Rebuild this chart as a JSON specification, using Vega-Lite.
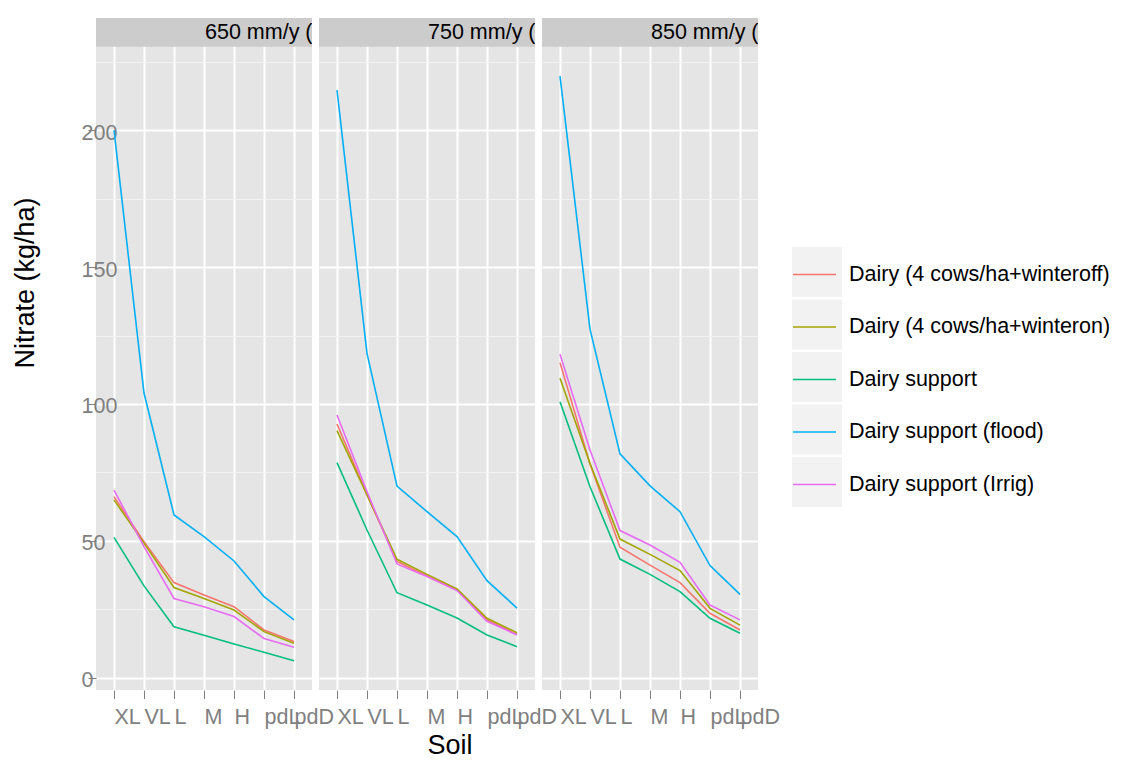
{
  "$schema": "https://vega.github.io/schema/vega-lite/v6.json",
  "background": "white",
  "padding": {"left": 11, "top": 18, "right": 5, "bottom": 5},
  "data": {"values": [
    {"rain": "650 mm/y (", "series": "Dairy (4 cows/ha+winteroff)", "soil": "XL", "nitrate": 66.2},
    {"rain": "650 mm/y (", "series": "Dairy (4 cows/ha+winteroff)", "soil": "VL", "nitrate": 49.7},
    {"rain": "650 mm/y (", "series": "Dairy (4 cows/ha+winteroff)", "soil": "L", "nitrate": 34.8},
    {"rain": "650 mm/y (", "series": "Dairy (4 cows/ha+winteroff)", "soil": "M", "nitrate": 30.3},
    {"rain": "650 mm/y (", "series": "Dairy (4 cows/ha+winteroff)", "soil": "H", "nitrate": 26.0},
    {"rain": "650 mm/y (", "series": "Dairy (4 cows/ha+winteroff)", "soil": "pdL", "nitrate": 17.5},
    {"rain": "650 mm/y (", "series": "Dairy (4 cows/ha+winteroff)", "soil": "pdD", "nitrate": 13.3},
    {"rain": "650 mm/y (", "series": "Dairy (4 cows/ha+winteron)", "soil": "XL", "nitrate": 65.0},
    {"rain": "650 mm/y (", "series": "Dairy (4 cows/ha+winteron)", "soil": "VL", "nitrate": 49.2},
    {"rain": "650 mm/y (", "series": "Dairy (4 cows/ha+winteron)", "soil": "L", "nitrate": 33.0},
    {"rain": "650 mm/y (", "series": "Dairy (4 cows/ha+winteron)", "soil": "M", "nitrate": 29.0},
    {"rain": "650 mm/y (", "series": "Dairy (4 cows/ha+winteron)", "soil": "H", "nitrate": 24.8},
    {"rain": "650 mm/y (", "series": "Dairy (4 cows/ha+winteron)", "soil": "pdL", "nitrate": 16.9},
    {"rain": "650 mm/y (", "series": "Dairy (4 cows/ha+winteron)", "soil": "pdD", "nitrate": 12.7},
    {"rain": "650 mm/y (", "series": "Dairy support", "soil": "XL", "nitrate": 51.3},
    {"rain": "650 mm/y (", "series": "Dairy support", "soil": "VL", "nitrate": 33.6},
    {"rain": "650 mm/y (", "series": "Dairy support", "soil": "L", "nitrate": 18.7},
    {"rain": "650 mm/y (", "series": "Dairy support", "soil": "M", "nitrate": 15.6},
    {"rain": "650 mm/y (", "series": "Dairy support", "soil": "H", "nitrate": 12.4},
    {"rain": "650 mm/y (", "series": "Dairy support", "soil": "pdL", "nitrate": 9.4},
    {"rain": "650 mm/y (", "series": "Dairy support", "soil": "pdD", "nitrate": 6.3},
    {"rain": "650 mm/y (", "series": "Dairy support (flood)", "soil": "XL", "nitrate": 200.0},
    {"rain": "650 mm/y (", "series": "Dairy support (flood)", "soil": "VL", "nitrate": 104.0},
    {"rain": "650 mm/y (", "series": "Dairy support (flood)", "soil": "L", "nitrate": 59.5},
    {"rain": "650 mm/y (", "series": "Dairy support (flood)", "soil": "M", "nitrate": 51.6},
    {"rain": "650 mm/y (", "series": "Dairy support (flood)", "soil": "H", "nitrate": 42.7},
    {"rain": "650 mm/y (", "series": "Dairy support (flood)", "soil": "pdL", "nitrate": 29.7},
    {"rain": "650 mm/y (", "series": "Dairy support (flood)", "soil": "pdD", "nitrate": 21.2},
    {"rain": "650 mm/y (", "series": "Dairy support (Irrig)", "soil": "XL", "nitrate": 68.6},
    {"rain": "650 mm/y (", "series": "Dairy support (Irrig)", "soil": "VL", "nitrate": 47.9},
    {"rain": "650 mm/y (", "series": "Dairy support (Irrig)", "soil": "L", "nitrate": 29.0},
    {"rain": "650 mm/y (", "series": "Dairy support (Irrig)", "soil": "M", "nitrate": 26.0},
    {"rain": "650 mm/y (", "series": "Dairy support (Irrig)", "soil": "H", "nitrate": 22.4},
    {"rain": "650 mm/y (", "series": "Dairy support (Irrig)", "soil": "pdL", "nitrate": 14.4},
    {"rain": "650 mm/y (", "series": "Dairy support (Irrig)", "soil": "pdD", "nitrate": 11.2},
    {"rain": "750 mm/y (", "series": "Dairy (4 cows/ha+winteroff)", "soil": "XL", "nitrate": 92.7},
    {"rain": "750 mm/y (", "series": "Dairy (4 cows/ha+winteroff)", "soil": "VL", "nitrate": 66.9},
    {"rain": "750 mm/y (", "series": "Dairy (4 cows/ha+winteroff)", "soil": "L", "nitrate": 42.5},
    {"rain": "750 mm/y (", "series": "Dairy (4 cows/ha+winteroff)", "soil": "M", "nitrate": 37.2},
    {"rain": "750 mm/y (", "series": "Dairy (4 cows/ha+winteroff)", "soil": "H", "nitrate": 32.1},
    {"rain": "750 mm/y (", "series": "Dairy (4 cows/ha+winteroff)", "soil": "pdL", "nitrate": 21.2},
    {"rain": "750 mm/y (", "series": "Dairy (4 cows/ha+winteroff)", "soil": "pdD", "nitrate": 15.9},
    {"rain": "750 mm/y (", "series": "Dairy (4 cows/ha+winteron)", "soil": "XL", "nitrate": 90.3},
    {"rain": "750 mm/y (", "series": "Dairy (4 cows/ha+winteron)", "soil": "VL", "nitrate": 66.8},
    {"rain": "750 mm/y (", "series": "Dairy (4 cows/ha+winteron)", "soil": "L", "nitrate": 43.3},
    {"rain": "750 mm/y (", "series": "Dairy (4 cows/ha+winteron)", "soil": "M", "nitrate": 37.8},
    {"rain": "750 mm/y (", "series": "Dairy (4 cows/ha+winteron)", "soil": "H", "nitrate": 32.5},
    {"rain": "750 mm/y (", "series": "Dairy (4 cows/ha+winteron)", "soil": "pdL", "nitrate": 21.8},
    {"rain": "750 mm/y (", "series": "Dairy (4 cows/ha+winteron)", "soil": "pdD", "nitrate": 16.5},
    {"rain": "750 mm/y (", "series": "Dairy support", "soil": "XL", "nitrate": 78.6},
    {"rain": "750 mm/y (", "series": "Dairy support", "soil": "VL", "nitrate": 54.0},
    {"rain": "750 mm/y (", "series": "Dairy support", "soil": "L", "nitrate": 31.1},
    {"rain": "750 mm/y (", "series": "Dairy support", "soil": "M", "nitrate": 26.6},
    {"rain": "750 mm/y (", "series": "Dairy support", "soil": "H", "nitrate": 21.9},
    {"rain": "750 mm/y (", "series": "Dairy support", "soil": "pdL", "nitrate": 15.7},
    {"rain": "750 mm/y (", "series": "Dairy support", "soil": "pdD", "nitrate": 11.4},
    {"rain": "750 mm/y (", "series": "Dairy support (flood)", "soil": "XL", "nitrate": 214.6},
    {"rain": "750 mm/y (", "series": "Dairy support (flood)", "soil": "VL", "nitrate": 118.5},
    {"rain": "750 mm/y (", "series": "Dairy support (flood)", "soil": "L", "nitrate": 70.0},
    {"rain": "750 mm/y (", "series": "Dairy support (flood)", "soil": "M", "nitrate": 60.7},
    {"rain": "750 mm/y (", "series": "Dairy support (flood)", "soil": "H", "nitrate": 51.6},
    {"rain": "750 mm/y (", "series": "Dairy support (flood)", "soil": "pdL", "nitrate": 35.5},
    {"rain": "750 mm/y (", "series": "Dairy support (flood)", "soil": "pdD", "nitrate": 25.5},
    {"rain": "750 mm/y (", "series": "Dairy support (Irrig)", "soil": "XL", "nitrate": 96.0},
    {"rain": "750 mm/y (", "series": "Dairy support (Irrig)", "soil": "VL", "nitrate": 68.0},
    {"rain": "750 mm/y (", "series": "Dairy support (Irrig)", "soil": "L", "nitrate": 41.6},
    {"rain": "750 mm/y (", "series": "Dairy support (Irrig)", "soil": "M", "nitrate": 37.0},
    {"rain": "750 mm/y (", "series": "Dairy support (Irrig)", "soil": "H", "nitrate": 31.9},
    {"rain": "750 mm/y (", "series": "Dairy support (Irrig)", "soil": "pdL", "nitrate": 20.7},
    {"rain": "750 mm/y (", "series": "Dairy support (Irrig)", "soil": "pdD", "nitrate": 15.7},
    {"rain": "850 mm/y (", "series": "Dairy (4 cows/ha+winteroff)", "soil": "XL", "nitrate": 115.1},
    {"rain": "850 mm/y (", "series": "Dairy (4 cows/ha+winteroff)", "soil": "VL", "nitrate": 78.1},
    {"rain": "850 mm/y (", "series": "Dairy (4 cows/ha+winteroff)", "soil": "L", "nitrate": 47.7},
    {"rain": "850 mm/y (", "series": "Dairy (4 cows/ha+winteroff)", "soil": "M", "nitrate": 41.2},
    {"rain": "850 mm/y (", "series": "Dairy (4 cows/ha+winteroff)", "soil": "H", "nitrate": 34.8},
    {"rain": "850 mm/y (", "series": "Dairy (4 cows/ha+winteroff)", "soil": "pdL", "nitrate": 23.6},
    {"rain": "850 mm/y (", "series": "Dairy (4 cows/ha+winteroff)", "soil": "pdD", "nitrate": 17.5},
    {"rain": "850 mm/y (", "series": "Dairy (4 cows/ha+winteron)", "soil": "XL", "nitrate": 109.4},
    {"rain": "850 mm/y (", "series": "Dairy (4 cows/ha+winteron)", "soil": "VL", "nitrate": 78.3},
    {"rain": "850 mm/y (", "series": "Dairy (4 cows/ha+winteron)", "soil": "L", "nitrate": 50.7},
    {"rain": "850 mm/y (", "series": "Dairy (4 cows/ha+winteron)", "soil": "M", "nitrate": 45.1},
    {"rain": "850 mm/y (", "series": "Dairy (4 cows/ha+winteron)", "soil": "H", "nitrate": 39.2},
    {"rain": "850 mm/y (", "series": "Dairy (4 cows/ha+winteron)", "soil": "pdL", "nitrate": 25.4},
    {"rain": "850 mm/y (", "series": "Dairy (4 cows/ha+winteron)", "soil": "pdD", "nitrate": 19.3},
    {"rain": "850 mm/y (", "series": "Dairy support", "soil": "XL", "nitrate": 100.8},
    {"rain": "850 mm/y (", "series": "Dairy support", "soil": "VL", "nitrate": 69.8},
    {"rain": "850 mm/y (", "series": "Dairy support", "soil": "L", "nitrate": 43.4},
    {"rain": "850 mm/y (", "series": "Dairy support", "soil": "M", "nitrate": 37.8},
    {"rain": "850 mm/y (", "series": "Dairy support", "soil": "H", "nitrate": 31.5},
    {"rain": "850 mm/y (", "series": "Dairy support", "soil": "pdL", "nitrate": 21.8},
    {"rain": "850 mm/y (", "series": "Dairy support", "soil": "pdD", "nitrate": 16.3},
    {"rain": "850 mm/y (", "series": "Dairy support (flood)", "soil": "XL", "nitrate": 219.7},
    {"rain": "850 mm/y (", "series": "Dairy support (flood)", "soil": "VL", "nitrate": 127.3},
    {"rain": "850 mm/y (", "series": "Dairy support (flood)", "soil": "L", "nitrate": 81.8},
    {"rain": "850 mm/y (", "series": "Dairy support (flood)", "soil": "M", "nitrate": 70.1},
    {"rain": "850 mm/y (", "series": "Dairy support (flood)", "soil": "H", "nitrate": 60.7},
    {"rain": "850 mm/y (", "series": "Dairy support (flood)", "soil": "pdL", "nitrate": 41.0},
    {"rain": "850 mm/y (", "series": "Dairy support (flood)", "soil": "pdD", "nitrate": 30.5},
    {"rain": "850 mm/y (", "series": "Dairy support (Irrig)", "soil": "XL", "nitrate": 118.2},
    {"rain": "850 mm/y (", "series": "Dairy support (Irrig)", "soil": "VL", "nitrate": 83.2},
    {"rain": "850 mm/y (", "series": "Dairy support (Irrig)", "soil": "L", "nitrate": 53.8},
    {"rain": "850 mm/y (", "series": "Dairy support (Irrig)", "soil": "M", "nitrate": 48.5},
    {"rain": "850 mm/y (", "series": "Dairy support (Irrig)", "soil": "H", "nitrate": 42.2},
    {"rain": "850 mm/y (", "series": "Dairy support (Irrig)", "soil": "pdL", "nitrate": 26.6},
    {"rain": "850 mm/y (", "series": "Dairy support (Irrig)", "soil": "pdD", "nitrate": 21.2}
  ]},
  "spacing": 7,
  "bounds": "flush",
  "resolve": {"scale": {"color": "independent", "stroke": "independent", "x": "independent", "y": "independent"}, "legend": {"color": "independent", "stroke": "independent"}},
  "hconcat": [
    {
      "width": 216, "height": 672,
      "transform": [{"filter": "datum.rain === '650 mm/y ('"}],
      "layer": [
        {
          "mark": {"type": "line", "strokeWidth": 1.6},
          "encoding": {
            "x": {
              "field": "soil", "type": "nominal",
              "scale": {"type": "point", "padding": 0.6, "domain": ["XL", "VL", "L", "M", "H", "pdL", "pdD"]},
              "axis": {"title": null, "grid": true, "gridColor": "#FFFFFF", "gridWidth": 2, "domain": false, "tickSize": 8.5, "tickColor": "#7F7F7F", "tickWidth": 1, "labelAlign": "left", "labelAngle": 0, "labelPadding": 8, "labelOverlap": false, "labelBound": false, "labelColor": "#7F7F7F", "labelFontSize": 21.5, "labelFont": "Liberation Sans"}
            },
            "y": {
              "field": "nitrate", "type": "quantitative",
              "scale": {"domain": [-4.4, 240.9], "nice": false, "zero": false},
              "axis": {
                "title": "Nitrate (kg/ha)",
                "values": [0, 25, 50, 75, 100, 125, 150, 175, 200, 225],
                "labelExpr": "datum.value % 50 === 0 ? datum.label : ''",
                "grid": true,
                "gridColor": {"condition": {"test": "datum.value % 50 === 0", "value": "#FFFFFF"}, "value": "#F2F2F2"},
                "gridWidth": {"condition": {"test": "datum.value % 50 === 0", "value": 2}, "value": 1},
                "tickOpacity": {"condition": {"test": "datum.value % 50 === 0", "value": 1}, "value": 0},
                "domain": false, "tickSize": 8, "tickColor": "#7F7F7F", "tickWidth": 1,
                "labelAlign": "left", "labelPadding": 7, "labelBaseline": "middle", "labelOffset": 3,
                "labelColor": "#7F7F7F", "labelFontSize": 21.5, "labelFont": "Liberation Sans",
                "titleFont": "Liberation Sans", "titleFontSize": 27, "titleFontWeight": "normal", "titleColor": "#000000",
                "titleAnchor": "middle", "titleAlign": "left", "titleY": 350, "titlePadding": 42
              }
            },
            "stroke": {
              "field": "series", "type": "nominal",
              "scale": {"domain": ["Dairy (4 cows/ha+winteroff)", "Dairy (4 cows/ha+winteron)", "Dairy support", "Dairy support (flood)", "Dairy support (Irrig)"], "range": ["#F8766D", "#A3A500", "#00BF7D", "#00B0F6", "#E76BF3"]},
              "legend": null
            }
          }
        },
        {
          "transform": [{"aggregate": [{"op": "count", "as": "n"}], "groupby": ["rain"]}],
          "mark": {"type": "rect", "color": "#CCCCCC"},
          "encoding": {"y": {"datum": 230.4}, "y2": {"datum": 240.9}}
        },
        {
          "transform": [{"aggregate": [{"op": "count", "as": "n"}], "groupby": ["rain"]}],
          "mark": {"type": "text", "align": "left", "baseline": "middle", "fontSize": 21.5, "font": "Liberation Sans", "color": "#000000", "clip": true, "dx": 1},
          "encoding": {"x": {"datum": "M"}, "y": {"datum": 235.6}, "text": {"field": "rain"}}
        }
      ]
    },
    {
      "width": 216, "height": 672,
      "transform": [{"filter": "datum.rain === '750 mm/y ('"}],
      "layer": [
        {
          "mark": {"type": "line", "strokeWidth": 1.6},
          "encoding": {
            "x": {
              "field": "soil", "type": "nominal",
              "scale": {"type": "point", "padding": 0.6, "domain": ["XL", "VL", "L", "M", "H", "pdL", "pdD"]},
              "axis": {"title": "Soil", "grid": true, "gridColor": "#FFFFFF", "gridWidth": 2, "domain": false, "tickSize": 8.5, "tickColor": "#7F7F7F", "tickWidth": 1, "labelAlign": "left", "labelAngle": 0, "labelPadding": 8, "labelOverlap": false, "labelBound": false, "labelColor": "#7F7F7F", "labelFontSize": 21.5, "labelFont": "Liberation Sans", "titleFont": "Liberation Sans", "titleFontSize": 27, "titleFontWeight": "normal", "titleColor": "#000000", "titleAnchor": "middle", "titleAlign": "left", "titlePadding": 4}
            },
            "y": {
              "field": "nitrate", "type": "quantitative",
              "scale": {"domain": [-4.4, 240.9], "nice": false, "zero": false},
              "axis": {
                "title": null, "labels": false, "ticks": false, "domain": false,
                "values": [0, 25, 50, 75, 100, 125, 150, 175, 200, 225],
                "grid": true,
                "gridColor": {"condition": {"test": "datum.value % 50 === 0", "value": "#FFFFFF"}, "value": "#F2F2F2"},
                "gridWidth": {"condition": {"test": "datum.value % 50 === 0", "value": 2}, "value": 1}
              }
            },
            "stroke": {
              "field": "series", "type": "nominal",
              "scale": {"domain": ["Dairy (4 cows/ha+winteroff)", "Dairy (4 cows/ha+winteron)", "Dairy support", "Dairy support (flood)", "Dairy support (Irrig)"], "range": ["#F8766D", "#A3A500", "#00BF7D", "#00B0F6", "#E76BF3"]},
              "legend": null
            }
          }
        },
        {
          "transform": [{"aggregate": [{"op": "count", "as": "n"}], "groupby": ["rain"]}],
          "mark": {"type": "rect", "color": "#CCCCCC"},
          "encoding": {"y": {"datum": 230.4}, "y2": {"datum": 240.9}}
        },
        {
          "transform": [{"aggregate": [{"op": "count", "as": "n"}], "groupby": ["rain"]}],
          "mark": {"type": "text", "align": "left", "baseline": "middle", "fontSize": 21.5, "font": "Liberation Sans", "color": "#000000", "clip": true, "dx": 1},
          "encoding": {"x": {"datum": "M"}, "y": {"datum": 235.6}, "text": {"field": "rain"}}
        }
      ]
    },
    {
      "width": 216, "height": 672,
      "transform": [{"filter": "datum.rain === '850 mm/y ('"}],
      "layer": [
        {
          "transform": [{"filter": "false"}],
          "mark": {"type": "square", "opacity": 1},
          "encoding": {
            "color": {
              "field": "series", "type": "nominal",
              "scale": {"domain": ["Dairy support (Irrig)", "Dairy support (flood)", "Dairy support", "Dairy (4 cows/ha+winteron)", "Dairy (4 cows/ha+winteroff)"], "range": ["#F2F2F2", "#F2F2F2", "#F2F2F2", "#F2F2F2", "#F2F2F2"]},
              "legend": {
                "title": null, "orient": "none", "legendX": 250, "legendY": 229,
                "symbolType": "square", "symbolSize": 2500, "symbolOpacity": 1, "symbolStrokeWidth": 0,
                "labelExpr": "''", "labelFontSize": 21.5, "labelFont": "Liberation Sans",
                "labelOffset": 0, "rowPadding": 2.5
              }
            }
          }
        },
        {
          "mark": {"type": "line", "strokeWidth": 1.6},
          "encoding": {
            "x": {
              "field": "soil", "type": "nominal",
              "scale": {"type": "point", "padding": 0.6, "domain": ["XL", "VL", "L", "M", "H", "pdL", "pdD"]},
              "axis": {"title": null, "grid": true, "gridColor": "#FFFFFF", "gridWidth": 2, "domain": false, "tickSize": 8.5, "tickColor": "#7F7F7F", "tickWidth": 1, "labelAlign": "left", "labelAngle": 0, "labelPadding": 8, "labelOverlap": false, "labelBound": false, "labelColor": "#7F7F7F", "labelFontSize": 21.5, "labelFont": "Liberation Sans"}
            },
            "y": {
              "field": "nitrate", "type": "quantitative",
              "scale": {"domain": [-4.4, 240.9], "nice": false, "zero": false},
              "axis": {
                "title": null, "labels": false, "ticks": false, "domain": false,
                "values": [0, 25, 50, 75, 100, 125, 150, 175, 200, 225],
                "grid": true,
                "gridColor": {"condition": {"test": "datum.value % 50 === 0", "value": "#FFFFFF"}, "value": "#F2F2F2"},
                "gridWidth": {"condition": {"test": "datum.value % 50 === 0", "value": 2}, "value": 1}
              }
            },
            "stroke": {
              "field": "series", "type": "nominal",
              "scale": {"domain": ["Dairy (4 cows/ha+winteroff)", "Dairy (4 cows/ha+winteron)", "Dairy support", "Dairy support (flood)", "Dairy support (Irrig)"], "range": ["#F8766D", "#A3A500", "#00BF7D", "#00B0F6", "#E76BF3"]},
              "legend": {
                "title": null, "orient": "none", "legendX": 250, "legendY": 234,
                "symbolType": "stroke", "symbolSize": 1849, "symbolStrokeWidth": 1.5,
                "labelFontSize": 21.5, "labelFont": "Liberation Sans", "labelColor": "#000000",
                "labelOffset": 12, "rowPadding": 19.5, "labelLimit": 400
              }
            }
          }
        },
        {
          "transform": [{"aggregate": [{"op": "count", "as": "n"}], "groupby": ["rain"]}],
          "mark": {"type": "rect", "color": "#CCCCCC"},
          "encoding": {"y": {"datum": 230.4}, "y2": {"datum": 240.9}}
        },
        {
          "transform": [{"aggregate": [{"op": "count", "as": "n"}], "groupby": ["rain"]}],
          "mark": {"type": "text", "align": "left", "baseline": "middle", "fontSize": 21.5, "font": "Liberation Sans", "color": "#000000", "clip": true, "dx": 1},
          "encoding": {"x": {"datum": "M"}, "y": {"datum": 235.6}, "text": {"field": "rain"}}
        }
      ]
    }
  ],
  "config": {
    "view": {"fill": "#E5E5E5", "stroke": null}
  }
}
